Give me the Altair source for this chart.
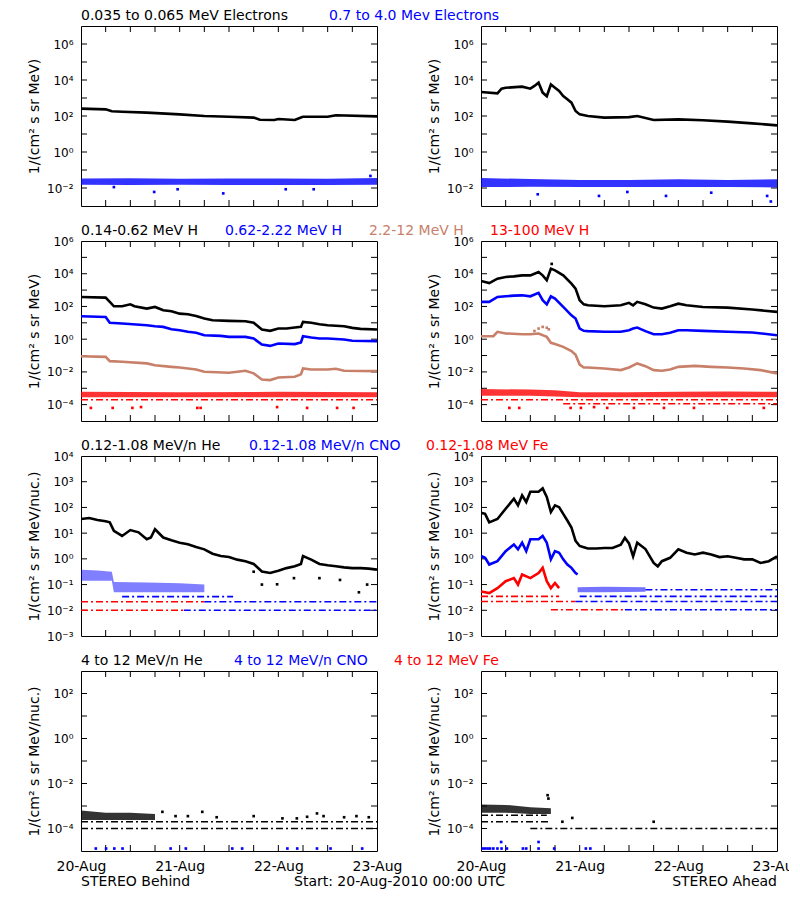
import altair as alt
import pandas as pd

# ------------------------------------------------------------------
# Data: time in hours after 20-Aug-2010 00:00 UTC, values = log10(flux)
# ------------------------------------------------------------------
# Row 1 : electrons
beh_e1_t = [0, 6, 7.5, 10, 16, 24, 30, 36, 42, 43.5, 47, 48, 52, 53.5, 54, 60, 62, 72]
beh_e1_v = [2.41, 2.37, 2.26, 2.24, 2.19, 2.09, 2.0, 1.96, 1.91, 1.79, 1.78, 1.83, 1.78, 1.92, 1.96, 1.96, 2.04, 1.98]
beh_e2_t = [0, 12, 24, 36, 48, 60, 72]
beh_e2_lo = [-1.82, -1.83, -1.82, -1.84, -1.83, -1.83, -1.82]
beh_e2_hi = [-1.47, -1.46, -1.48, -1.47, -1.47, -1.48, -1.45]
beh_e2_out_t = [8, 17.8, 23.5, 34.6, 49.8, 56.6, 70.4]
beh_e2_out_v = [-1.95, -2.22, -2.07, -2.3, -2.07, -2.07, -1.33]

ahd_e1_t = [0, 4, 5, 6, 10, 12, 13, 14, 15, 16, 17, 18, 19, 20, 21, 22, 23, 24, 26, 30, 36, 38, 42, 48, 54, 60, 66, 72]
ahd_e1_v = [3.33, 3.26, 3.52, 3.57, 3.63, 3.52, 3.67, 3.85, 3.3, 3.1, 3.75, 3.57, 3.39, 3.11, 2.93, 2.74, 2.28, 2.09, 2.0, 1.91, 1.94, 2.0, 1.78, 1.81, 1.76, 1.69, 1.59, 1.48]
ahd_e2_t = [0, 12, 24, 36, 48, 60, 72]
ahd_e2_lo = [-1.95, -1.93, -1.95, -1.95, -1.95, -1.95, -1.97]
ahd_e2_hi = [-1.45, -1.5, -1.55, -1.55, -1.52, -1.55, -1.52]
ahd_e2_out_t = [13.8, 28.7, 35.6, 45, 56, 69.6, 70.5]
ahd_e2_out_v = [-2.35, -2.44, -2.22, -2.44, -2.26, -2.44, -2.75]

# Row 2 : protons
beh_h1_t = [0, 6, 7, 8, 10, 12, 13, 16, 18, 20, 22, 24, 26, 28, 30, 32, 36, 40, 42, 44, 46, 48, 50, 52, 53.5, 54, 56, 58, 60, 64, 66, 68, 72]
beh_h1_v = [2.58, 2.54, 2.28, 2.01, 2.01, 2.13, 2.01, 1.87, 1.97, 1.77, 1.71, 1.56, 1.52, 1.42, 1.26, 1.16, 1.12, 1.10, 1.0, 0.59, 0.51, 0.65, 0.65, 0.71, 0.75, 1.06, 1.0, 0.91, 0.85, 0.79, 0.69, 0.63, 0.59]
beh_h2_t = [0, 6, 7, 10, 16, 18, 20, 22, 24, 26, 28, 30, 34, 36, 40, 42, 44, 46, 48, 52, 53.5, 54, 56, 58, 60, 64, 66, 72]
beh_h2_v = [1.40, 1.36, 1.0, 0.96, 0.85, 0.79, 0.75, 0.61, 0.55, 0.45, 0.39, 0.24, 0.20, 0.14, 0.14, 0.04, -0.33, -0.41, -0.26, -0.30, -0.20, 0.18, 0.10, 0.04, 0.04, -0.02, -0.10, -0.12]
beh_h3_t = [0, 6, 7, 10, 16, 18, 22, 24, 28, 30, 36, 40, 42, 44, 46, 48, 52, 53.5, 54, 56, 60, 62, 64, 72]
beh_h3_v = [-1.04, -1.08, -1.34, -1.38, -1.48, -1.59, -1.69, -1.73, -1.85, -1.99, -2.05, -1.93, -2.09, -2.46, -2.50, -2.34, -2.30, -2.15, -1.79, -1.85, -1.85, -1.81, -1.93, -1.95]
beh_h4_t = [0, 24, 48, 72]
beh_h4_lo = [-3.55, -3.55, -3.55, -3.55]
beh_h4_hi = [-3.22, -3.24, -3.22, -3.24]
beh_h4_out_t = [2.4, 7.7, 12.5, 14.6, 28.3, 29.1, 47.7, 55, 62.3, 66.3]
beh_h4_out_v = [-4.2, -4.2, -4.2, -4.15, -4.2, -4.2, -4.15, -4.2, -4.2, -4.2]

ahd_h_t = [0, 2, 4, 6, 8, 10, 12, 14, 15, 16, 17, 18, 20, 22, 23, 24, 25, 26, 30, 34, 36, 37, 38, 40, 42, 44, 46, 48, 50, 54, 60, 66, 72]
ahd_h1_v = [3.56, 3.43, 3.70, 3.80, 3.84, 3.90, 3.90, 4.11, 3.90, 3.60, 4.31, 4.21, 3.90, 3.39, 3.09, 2.38, 2.13, 2.07, 2.01, 2.07, 2.22, 2.07, 2.28, 2.13, 1.93, 1.87, 2.01, 2.17, 2.07, 1.97, 1.93, 1.81, 1.67]
ahd_h2_v = [2.28, 2.28, 2.58, 2.62, 2.66, 2.68, 2.62, 2.83, 2.38, 2.13, 2.62, 2.48, 1.97, 1.46, 1.26, 0.65, 0.51, 0.49, 0.45, 0.45, 0.55, 0.65, 0.71, 0.49, 0.30, 0.30, 0.39, 0.55, 0.55, 0.51, 0.45, 0.41, 0.24]
ahd_h3_t = [0, 3, 4, 6, 10, 12, 14, 16, 17, 18, 20, 22, 23, 24, 25, 26, 30, 34, 36, 38, 40, 42, 44, 46, 48, 52, 56, 60, 64, 68, 72]
ahd_h3_v = [0.18, 0.18, 0.45, 0.35, 0.30, 0.30, 0.35, 0.14, -0.22, -0.30, -0.47, -0.72, -0.95, -1.55, -1.73, -1.73, -1.79, -1.89, -1.73, -1.48, -1.65, -1.89, -1.93, -1.85, -1.69, -1.63, -1.69, -1.73, -1.79, -1.89, -2.09]
ahd_h3_out_t = [13, 14, 15, 16, 16.5]
ahd_h3_out_v = [0.5, 0.65, 0.75, 0.7, 0.6]
ahd_h1_out_t = [17.2]
ahd_h1_out_v = [4.6]
ahd_h4_t = [0, 12, 18, 24, 36, 48, 60, 72]
ahd_h4_lo = [-3.45, -3.45, -3.5, -3.55, -3.55, -3.55, -3.55, -3.55]
ahd_h4_hi = [-3.05, -3.08, -3.12, -3.25, -3.25, -3.22, -3.2, -3.22]
ahd_h4_out_t = [6.9, 9.3, 21.8, 24.3, 27.5, 30.7, 37.2, 44.5, 51.8, 68.8]
ahd_h4_out_v = [-4.2, -4.2, -4.2, -4.2, -4.15, -4.2, -4.2, -4.2, -4.2, -4.2]

# Row 3 : 0.12-1.08 MeV/n ions
beh_he_t = [0, 2, 4, 6, 7, 8, 10, 12, 14, 16, 17, 18, 20, 22, 24, 26, 28, 30, 32, 34, 36, 38, 40, 42, 44, 46, 48, 50, 52, 53.5, 54, 56, 58, 60, 62, 64, 66, 68, 70, 72]
beh_he_v = [1.55, 1.59, 1.51, 1.46, 1.42, 1.09, 0.89, 1.12, 1.03, 0.76, 0.83, 1.15, 0.83, 0.72, 0.63, 0.57, 0.46, 0.37, 0.20, 0.11, 0.07, -0.03, -0.09, -0.20, -0.49, -0.55, -0.46, -0.36, -0.29, -0.2, 0.11, -0.03, -0.20, -0.25, -0.29, -0.33, -0.36, -0.36, -0.38, -0.42]
beh_he_out_t = [42, 44, 47.7, 51.8, 58, 63, 67.6, 69.6]
beh_he_out_v = [-0.5, -1.0, -0.99, -0.75, -0.75, -0.82, -1.3, -1.0]
beh_cno_t = [0, 4, 7.5, 8, 16, 24, 30]
beh_cno_lo = [-0.85, -0.85, -0.85, -1.3, -1.3, -1.3, -1.3]
beh_cno_hi = [-0.42, -0.45, -0.5, -0.9, -0.92, -0.95, -1.0]

ahd_he_t = [0, 1, 2, 4, 6, 8, 9, 10, 11, 12, 14, 15, 16, 17, 18, 19, 20, 21, 22, 23, 24, 25, 26, 28, 30, 32, 34, 35, 36, 37, 38, 40, 42, 43, 44, 46, 48, 50, 52, 54, 56, 58, 60, 62, 64, 66, 68, 70, 72]
ahd_he_v = [1.79, 1.75, 1.42, 1.55, 1.95, 2.34, 2.08, 2.47, 2.21, 2.61, 2.61, 2.74, 2.41, 1.82, 2.08, 2.01, 1.75, 1.49, 1.22, 0.70, 0.50, 0.45, 0.40, 0.40, 0.42, 0.42, 0.55, 0.82, 0.60, 0.10, 0.63, 0.38, -0.16, -0.29, -0.09, 0.04, 0.37, 0.24, 0.17, 0.24, 0.17, 0.07, 0.10, 0.04, -0.02, -0.02, -0.16, -0.09, 0.10]
ahd_cno_t = [0, 1, 2, 4, 6, 8, 9, 10, 11, 12, 14, 15, 16, 17, 18, 19, 20, 21, 22, 23, 23.5]
ahd_cno_v = [0.11, 0.04, -0.22, -0.09, 0.30, 0.56, 0.37, 0.63, 0.30, 0.76, 0.76, 0.89, 0.63, -0.02, 0.30, 0.24, -0.02, -0.22, -0.35, -0.55, -0.6]
ahd_fe_t = [0, 2, 4, 6, 8, 9, 10, 12, 14, 15, 16, 17, 18, 19]
ahd_fe_v = [-1.27, -1.33, -1.14, -0.87, -0.75, -1.0, -0.61, -0.75, -0.55, -0.35, -0.87, -1.14, -0.94, -1.14]
ahd_cno_bg_t = [23.5, 30, 40]
ahd_cno_bg_lo = [-1.3, -1.3, -1.28]
ahd_cno_bg_hi = [-1.1, -1.08, -1.1]

# background (one-count) levels: start hour, end hour, log10 level
beh_r3_red = ([0, 0], [30, 25], [-1.67, -2.0])
beh_r3_blue = ([10, 30, 25], [37, 72, 72], [-1.47, -1.67, -2.0])
ahd_r3_red = ([0, 0, 17], [19, 23, 35], [-1.46, -1.66, -1.98])
ahd_r3_blue = ([24, 23, 35, 40], [72, 72, 72, 72], [-1.46, -1.66, -1.98, -1.2])

# Row 4 : 4-12 MeV/n ions
beh_hi_t = [0, 6, 12, 18]
beh_hi_lo = [-3.62, -3.62, -3.62, -3.62]
beh_hi_hi = [-3.2, -3.3, -3.3, -3.35]
beh_hi_out_t = [19.8, 23, 26, 29.5, 33, 42, 49, 52.5, 55, 57.4, 59, 64, 67, 70]
beh_hi_out_v = [-3.26, -3.45, -3.45, -3.26, -3.5, -3.45, -3.55, -3.55, -3.48, -3.33, -3.45, -3.5, -3.45, -3.5]
beh_r4_black = ([0, 0], [72, 72], [-3.7, -4.0])
beh_r4_blue_t = [3.6, 6.1, 8.1, 10.1, 21.8, 25.5, 36.8, 39.2, 50.2, 52.6, 57.4, 60.7, 68.4]
beh_r4_blue_v = [-4.89] * 13

ahd_hi_t = [0, 6, 12, 17]
ahd_hi_lo = [-3.3, -3.3, -3.35, -3.35]
ahd_hi_hi = [-2.93, -2.95, -3.05, -3.1]
ahd_hi_out_t = [16.2, 16.4, 19.8, 22.2, 42]
ahd_hi_out_v = [-2.52, -2.67, -3.7, -3.53, -3.7]
ahd_r4_black = ([0, 0, 12], [16, 17, 72], [-3.41, -3.7, -4.0])
ahd_r4_blue_t = [0.4, 1, 1.6, 2.2, 3, 4, 5, 6.3, 10.2, 11, 14, 17.8, 25.5, 26.6, 4.9, 14]
ahd_r4_blue_v = [-4.89] * 14 + [-4.6, -4.6]

# Text
row_titles = [
    ["0.035 to 0.065 MeV Electrons", "0.7 to 4.0 Mev Electrons"],
    ["0.14-0.62 MeV H", "0.62-2.22 MeV H", "2.2-12 MeV H", "13-100 MeV H"],
    ["0.12-1.08 MeV/n He", "0.12-1.08 MeV/n CNO", "0.12-1.08 MeV Fe"],
    ["4 to 12 MeV/n He", "4 to 12 MeV/n CNO", "4 to 12 MeV Fe"],
]
y_titles = ["1/(cm² s sr MeV)", "1/(cm² s sr MeV)", "1/(cm² s sr MeV/nuc.)", "1/(cm² s sr MeV/nuc.)"]
day_hours = [0, 24, 48, 72]
day_labels = ["20-Aug", "21-Aug", "22-Aug", "23-Aug"]
foot_left = "STEREO Behind"
foot_mid = "Start: 20-Aug-2010 00:00 UTC"
foot_right = "STEREO Ahead"

# ------------------------------------------------------------------
# Styles / layout
# ------------------------------------------------------------------
BLACK, BLUE, SIENNA, RED = "#000000", "#0000ff", "#c8806a", "#ff0000"
title_colors = [[BLACK, BLUE], [BLACK, BLUE, SIENNA, RED], [BLACK, BLUE, RED], [BLACK, BLUE, RED]]
title_offsets = [[0, 248], [0, 144, 288, 409], [0, 168, 345], [0, 153, 313]]
row_decades = [(-3, 7), (-5, 6), (-3, 4), (-5, 3)]
row_label_decades = [[6, 4, 2, 0, -2], [6, 4, 2, 0, -2, -4], [4, 3, 2, 1, 0, -1, -2, -3], [2, 0, -2, -4]]
W, H = 296, 180
TICK = 6
FONT = "DejaVu Sans"
SUP = str.maketrans("-0123456789", "⁻⁰¹²³⁴⁵⁶⁷⁸⁹")

XS = alt.Scale(domain=[0, 72], nice=False, zero=False)


def pw(vals):
    return [10.0 ** v for v in vals]


def line(t, v, color, ys, w=2.6):
    df = pd.DataFrame({"t": t, "f": pw(v)})
    return alt.Chart(df).mark_line(color=color, strokeWidth=w, clip=True).encode(
        x=alt.X("t:Q", scale=XS), y=alt.Y("f:Q", scale=ys))


def band(t, lo, hi, color, ys, op=0.8):
    df = pd.DataFrame({"t": t, "f": pw(lo), "f2": pw(hi)})
    return alt.Chart(df).mark_area(color=color, opacity=op, clip=True).encode(
        x=alt.X("t:Q", scale=XS), y=alt.Y("f:Q", scale=ys), y2="f2:Q")


def dots(t, v, color, ys, size=7):
    df = pd.DataFrame({"t": t, "f": pw(v)})
    return alt.Chart(df).mark_square(color=color, size=size, opacity=1, clip=True).encode(
        x=alt.X("t:Q", scale=XS), y=alt.Y("f:Q", scale=ys))


def segs(spec, color, ys, w=1.6):
    t0, t1, v = spec
    df = pd.DataFrame({"t": t0, "t2": t1, "f": pw(v)})
    return alt.Chart(df).mark_rule(color=color, strokeWidth=w, strokeDash=[7, 3, 2, 3], clip=True).encode(
        x=alt.X("t:Q", scale=XS), x2="t2:Q", y=alt.Y("f:Q", scale=ys))


def ylabel_expr(ks):
    parts = [f"abs(log(datum.value)/LN10-({k}))<0.01 ? '10{str(k).translate(SUP)}'" for k in ks]
    return " : ".join(parts) + " : ''"


def xlabel_expr():
    parts = [f"datum.value == {h} ? '{s}'" for h, s in zip(day_hours, day_labels)]
    return " : ".join(parts) + " : ''"


def frame(row, bottom):
    """Tick layers that also carry the explicit axis definitions."""
    lo, hi = row_decades[row]
    ys = alt.Scale(type="log", domain=[10.0 ** lo, 10.0 ** hi], nice=False)
    dec = pd.DataFrame({"f": [10.0 ** k for k in range(lo + 1, hi)]})
    yaxis = alt.Axis(values=[10.0 ** k for k in row_label_decades[row]],
                     labelExpr=ylabel_expr(row_label_decades[row]),
                     ticks=False, domain=False, grid=False, labelPadding=8,
                     labelFontSize=12, labelOverlap=False, labelFlush=False, labelBound=False,
                     labelColor="black", title=y_titles[row], titleFontSize=14,
                     titleFontWeight="normal", titleColor="black", titleX=-47, titleY=H / 2,
                     titleBaseline="middle")
    left = alt.Chart(dec).mark_rule(color="black", strokeWidth=1).encode(
        y=alt.Y("f:Q", scale=ys, axis=yaxis), x=alt.value(0), x2=alt.value(TICK))
    right = alt.Chart(dec).mark_rule(color="black", strokeWidth=1).encode(
        y=alt.Y("f:Q", scale=ys), x=alt.value(W - TICK), x2=alt.value(W))
    hrs = pd.DataFrame({"t": list(range(6, 72, 6))})
    xaxis = alt.Axis(values=day_hours, labelExpr=xlabel_expr(), ticks=False, domain=False,
                     grid=False, labelPadding=8, labelFontSize=14, labelFlush=False,
                     labelOverlap=False, labelBound=False, labelColor="black", title=None,
                     labels=bottom)
    bot = alt.Chart(hrs).mark_rule(color="black", strokeWidth=1).encode(
        x=alt.X("t:Q", scale=XS, axis=xaxis), y=alt.value(H - TICK), y2=alt.value(H))
    top = alt.Chart(hrs).mark_rule(color="black", strokeWidth=1).encode(
        x=alt.X("t:Q", scale=XS), y=alt.value(0), y2=alt.value(TICK))
    return ys, [left, bot, right, top]


def text_layer(s, color, x, y, align="left"):
    return alt.Chart(pd.DataFrame({"s": [s]})).mark_text(
        align=align, baseline="middle", fontSize=14, color=color, font=FONT).encode(
        x=alt.value(x), y=alt.value(y), text="s:N")


def titles(row):
    return [text_layer(s, c, o, -10) for s, c, o in zip(row_titles[row], title_colors[row], title_offsets[row])]


# ------------------------------------------------------------------
# Panels
# ------------------------------------------------------------------
# Row 1
ys, fr = frame(0, False)
p1 = alt.layer(*fr, band(beh_e2_t, beh_e2_lo, beh_e2_hi, BLUE, ys), dots(beh_e2_out_t, beh_e2_out_v, BLUE, ys),
               line(beh_e1_t, beh_e1_v, BLACK, ys), *titles(0))
ys, fr = frame(0, False)
p2 = alt.layer(*fr, band(ahd_e2_t, ahd_e2_lo, ahd_e2_hi, BLUE, ys), dots(ahd_e2_out_t, ahd_e2_out_v, BLUE, ys),
               line(ahd_e1_t, ahd_e1_v, BLACK, ys))

# Row 2
ys, fr = frame(1, False)
p3 = alt.layer(*fr, band(beh_h4_t, beh_h4_lo, beh_h4_hi, RED, ys),
               segs(([0], [72], [-3.7]), RED, ys), dots(beh_h4_out_t, beh_h4_out_v, RED, ys),
               line(beh_h3_t, beh_h3_v, SIENNA, ys), line(beh_h2_t, beh_h2_v, BLUE, ys),
               line(beh_h1_t, beh_h1_v, BLACK, ys), *titles(1))
ys, fr = frame(1, False)
p4 = alt.layer(*fr, band(ahd_h4_t, ahd_h4_lo, ahd_h4_hi, RED, ys),
               segs(([0, 20], [72, 72], [-3.7, -3.95]), RED, ys), dots(ahd_h4_out_t, ahd_h4_out_v, RED, ys),
               line(ahd_h3_t, ahd_h3_v, SIENNA, ys), dots(ahd_h3_out_t, ahd_h3_out_v, SIENNA, ys),
               line(ahd_h_t, ahd_h2_v, BLUE, ys), line(ahd_h_t, ahd_h1_v, BLACK, ys),
               dots(ahd_h1_out_t, ahd_h1_out_v, BLACK, ys))

# Row 3
ys, fr = frame(2, False)
p5 = alt.layer(*fr, segs(beh_r3_red, RED, ys), segs(beh_r3_blue, BLUE, ys),
               band(beh_cno_t, beh_cno_lo, beh_cno_hi, BLUE, ys, op=0.5),
               line(beh_he_t, beh_he_v, BLACK, ys), dots(beh_he_out_t, beh_he_out_v, BLACK, ys),
               *titles(2))
ys, fr = frame(2, False)
p6 = alt.layer(*fr, segs(ahd_r3_red, RED, ys), segs(ahd_r3_blue, BLUE, ys),
               band(ahd_cno_bg_t, ahd_cno_bg_lo, ahd_cno_bg_hi, BLUE, ys, op=0.55),
               line(ahd_fe_t, ahd_fe_v, RED, ys), line(ahd_cno_t, ahd_cno_v, BLUE, ys),
               line(ahd_he_t, ahd_he_v, BLACK, ys))

# Row 4
ys, fr = frame(3, True)
p7 = alt.layer(*fr, segs(beh_r4_black, BLACK, ys), band(beh_hi_t, beh_hi_lo, beh_hi_hi, BLACK, ys, op=0.8),
               dots(beh_hi_out_t, beh_hi_out_v, BLACK, ys), dots(beh_r4_blue_t, beh_r4_blue_v, BLUE, ys),
               *titles(3),
               text_layer(foot_left, BLACK, 0, H + 31), text_layer(foot_mid, BLACK, 213, H + 31))
ys, fr = frame(3, True)
p8 = alt.layer(*fr, segs(ahd_r4_black, BLACK, ys), band(ahd_hi_t, ahd_hi_lo, ahd_hi_hi, BLACK, ys, op=0.8),
               dots(ahd_hi_out_t, ahd_hi_out_v, BLACK, ys), dots(ahd_r4_blue_t, ahd_r4_blue_v, BLUE, ys),
               text_layer(foot_right, BLACK, W, H + 31, align="right"))

cells = [p.properties(width=W, height=H) for p in (p1, p2, p3, p4, p5, p6, p7, p8)]

chart = (
    alt.ConcatChart(concat=cells, columns=2,
                    spacing=alt.RowColnumber(row=35, column=104), bounds="flush")
    .properties(padding={"left": 18, "top": 0, "right": -14, "bottom": 0}, background="white")
    .configure(font=FONT)
    .configure_view(stroke="black", strokeWidth=1)
)

chart.save("out.html", embed_options={"renderer": "svg", "actions": False})
